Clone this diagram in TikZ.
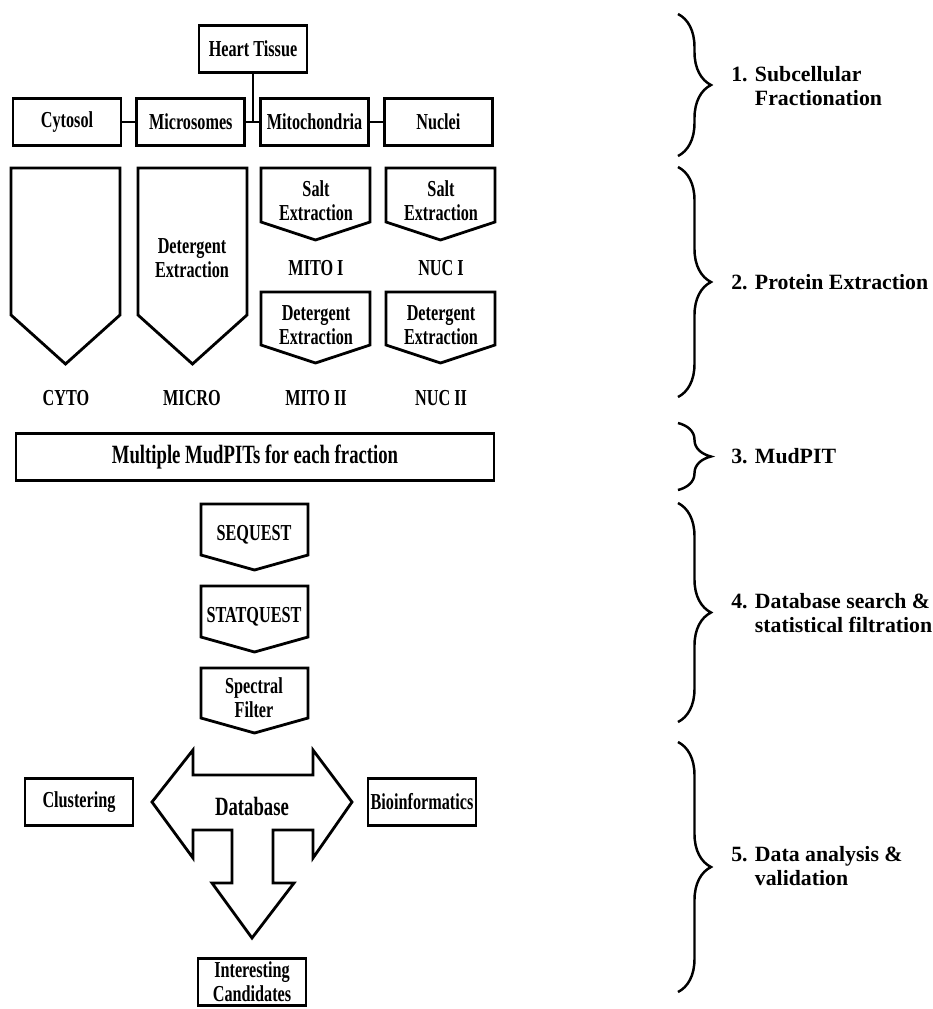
\documentclass[tikz,border=0pt]{standalone}
\usepackage{fontspec}
\setmainfont{Liberation Serif}
\newfontfamily\boxfont{Liberation Serif}[FakeStretch=0.71]
\usetikzlibrary{positioning,decorations.pathreplacing}
\tikzset{
    %Define style for boxes
    fracbox/.style={
           rectangle,
           draw=black, line width=1.6pt,
           minimum width=2.16cm,
           minimum height=0.94cm,
           inner sep=1pt,
           font=\boxfont\bfseries\fontsize{13}{13.5}\selectfont,
           align=center},
    %Define style for free text in the flow
    fractext/.style={
           font=\boxfont\bfseries\fontsize{13}{13.5}\selectfont,
           align=center, inner sep=1pt},
    %Define style for pentagon outlines
    pent/.style={line width=1.6pt, line join=miter},
    % Define link style
    link/.style={line width=1.6pt},
    %Define style for phase braces
    phase/.style={
           decorate,
           decoration={brace, amplitude=0.66cm},
           line width=1.4pt},
    phaselabel/.style={
           anchor=west,
           font=\bfseries\fontsize{12.4}{13.6}\selectfont,
           align=left, inner sep=0pt}
}
% pentagon: left, top, shoulder, tip, width
\newcommand{\pentagon}[5]{\draw[pent] (#1,#2) -- (#1+#5,#2) -- (#1+#5,#3) -- (#1+#5/2,#4) -- (#1,#3) -- cycle;}

\begin{document}
\begin{tikzpicture}[x=0.02cm, y=-0.02cm]
\useasboundingbox (0,0) rectangle (933,1009);

 %1. fractionation
\node[fracbox] (heart) at (253,49) {Heart Tissue};
\node[fracbox] (cytosol) at (67,122) {Cytosol};
\node[fracbox, right=0.26cm of cytosol] (microsomes) {Microsomes};
\node[fracbox, right=0.26cm of microsomes] (mito) {Mitochondria};
\node[fracbox, right=0.26cm of mito] (nuclei) {Nuclei};

\draw[link] (cytosol) -- (microsomes);
\draw[link] (microsomes) -- (mito);
\draw[link] (mito) -- (nuclei);
\draw[link] (heart.south) -- (heart.south |- mito.west);

 %2. extraction
\pentagon{11}{168}{315}{364}{109}
\pentagon{138}{168}{315}{364}{109}
\pentagon{261}{168}{222}{240}{109}
\pentagon{386}{168}{222}{240}{109}
\pentagon{261}{292}{345}{363}{109}
\pentagon{386}{292}{345}{363}{109}

\node[fractext] (microdet) at (192,258) {Detergent\\Extraction};
\node[fractext] (mitosalt) at (316,201) {Salt\\Extraction};
\node[fractext] (nucsalt) at (441,201) {Salt\\Extraction};
\node[fractext] (mitodet) at (316,325) {Detergent\\Extraction};
\node[fractext] (nucdet) at (441,325) {Detergent\\Extraction};

\node[fractext] (mitoone) at (316,268) {MITO I};
\node[fractext] (nucone) at (441,268) {NUC I};
\node[fractext] (cyto) at (66,398) {CYTO};
\node[fractext] (micro) at (192,398) {MICRO};
\node[fractext] (mitotwo) at (316,398) {MITO II};
\node[fractext] (nuctwo) at (441,398) {NUC II};

 %3. mudpit
\node[fracbox, minimum width=9.56cm, font=\boxfont\bfseries\fontsize{15}{16}\selectfont] (mudpit) at (255,457) {Multiple MudPITs for each fraction};

 %4. search and filtration
\pentagon{201}{504}{555}{570}{107}
\pentagon{201}{586}{637}{652}{107}
\pentagon{201}{668}{718}{733}{107}
\node[fractext] (sequest) at (254,535) {SEQUEST};
\node[fractext] (statquest) at (254,617) {STATQUEST};
\node[fractext] (spectral) at (254,698) {Spectral\\Filter};

 %5. analysis
\draw[pent] (152,802) -- (193,750) -- (193,775) -- (313,775) -- (313,750)
    -- (352,802) -- (313,858) -- (313,830) -- (273,830) -- (273,883)
    -- (294,883) -- (252,938) -- (212,883) -- (232,883) -- (232,830)
    -- (193,830) -- (193,858) -- cycle;
\node[fractext, font=\boxfont\bfseries\fontsize{15}{16}\selectfont] (database) at (252,806) {Database};
\node[fracbox] (clustering) at (79,802) {Clustering};
\node[fracbox] (bioinfo) at (422,802) {Bioinformatics};
\node[fracbox] (candidates) at (252,982) {Interesting\\Candidates};

 %braces
\draw[phase] (678,14) -- (678,156);
\draw[phase] (678,167) -- (678,397);
\draw[phase] (678,423) -- (678,490);
\draw[phase] (678,503) -- (678,722);
\draw[phase] (678,742) -- (678,992);

\node[phaselabel] (phaseone) at (731,86) {1. Subcellular\\\phantom{1. }Fractionation};
\node[phaselabel] (phasetwo) at (731,282) {2. Protein Extraction};
\node[phaselabel] (phasethree) at (731,456) {3. MudPIT};
\node[phaselabel] (phasefour) at (731,613) {4. Database search \&\\\phantom{4. }statistical filtration};
\node[phaselabel] (phasefive) at (731,866) {5. Data analysis \&\\\phantom{5. }validation};
\end{tikzpicture}
\end{document}
